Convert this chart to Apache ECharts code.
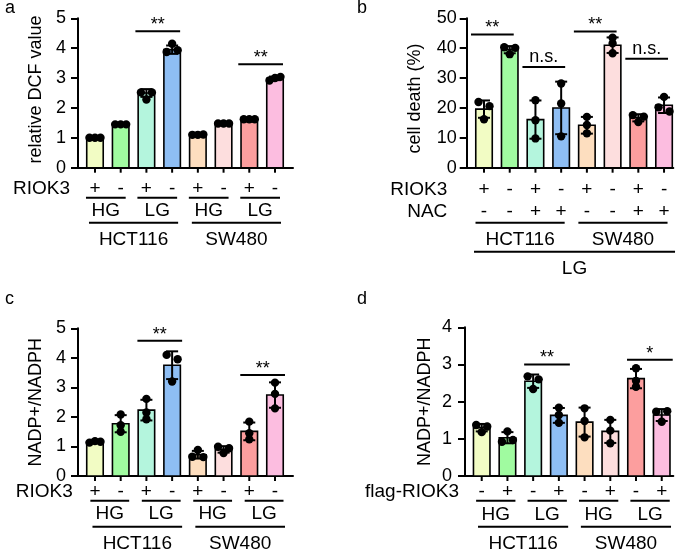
<!DOCTYPE html>
<html>
<head>
<meta charset="utf-8">
<script src="https://cdn.jsdelivr.net/npm/echarts@6/dist/echarts.min.js"></script>
<style>
html,body{margin:0;padding:0;background:#fff;}
#main{width:685px;height:553px;}
</style>
</head>
<body>
<div id="main"></div>
<script>
// ---------------- data ----------------
const barColors = ['#F2FCC4','#A0FBA0','#B4F5DD','#8EBEF4','#FDDEBF','#FDDEDE','#FC9E9E','#FCBDE0'];

// panel a: relative DCF value
const aMean = [1.00, 1.45, 2.50, 3.95, 1.11, 1.48, 1.62, 2.99];
const aSD   = [0.01, 0.01, 0.13, 0.14, 0.01, 0.01, 0.01, 0.06];
const aDots = [[1.00,1.00,1.00],[1.45,1.45,1.45],[2.52,2.28,2.52],[3.87,4.15,3.93],
               [1.10,1.10,1.11],[1.48,1.48,1.48],[1.62,1.62,1.62],[2.92,3.00,3.04]];
const aSig  = [{from:2,to:3,y:4.57,label:'**'},{from:6,to:7,y:3.46,label:'**'}];
const aRowNames = ['RIOK3'];
const aRowSigns = [['+','-','+','-','+','-','+','-']];
const aConds = ['HG','LG','HG','LG'];
const aCells = ['HCT116','SW480'];

// panel b: cell death (%)
const bMean = [19.6, 39.5, 16.1, 20.0, 14.2, 41.0, 16.7, 20.9];
const bSD   = [2.9, 1.2, 6.4, 8.8, 2.8, 2.6, 1.2, 2.6];
const bDots = [[22.0,16.2,20.6],[40.3,38.0,40.1],[22.6,15.9,9.8],[28.2,21.5,10.5],
               [17.0,14.3,11.5],[43.5,41.6,38.3],[17.6,15.3,17.1],[23.7,20.2,18.8]];
const bSig  = [{from:0,to:1,y:44.6,label:'**'},{from:2,to:3,y:33.7,label:'n.s.'},
               {from:4,to:5,y:45.6,label:'**'},{from:6,to:7,y:36.5,label:'n.s.'}];
const bRowNames = ['RIOK3','NAC'];
const bRowSigns = [['+','-','+','-','+','-','+','-'],['-','-','+','+','-','-','+','+']];
const bCells = ['HCT116','SW480'];
const bConds = ['LG'];

// panel c: NADP+/NADPH
const cMean = [1.16, 1.77, 2.23, 3.75, 0.72, 0.90, 1.51, 2.74];
const cSD   = [0.03, 0.29, 0.35, 0.47, 0.13, 0.11, 0.30, 0.43];
const cDots = [[1.13,1.18,1.16],[2.08,1.72,1.50],[2.61,2.15,1.92],[4.10,3.20,3.95],
               [0.88,0.65,0.64],[0.99,0.78,0.94],[1.84,1.45,1.24],[3.16,2.78,2.29]];
const cSig  = [{from:2,to:3,y:4.58,label:'**'},{from:6,to:7,y:3.42,label:'**'}];
const cRowNames = ['RIOK3'];
const cRowSigns = [['+','-','+','-','+','-','+','-']];
const cConds = ['HG','LG','HG','LG'];
const cCells = ['HCT116','SW480'];

// panel d: NADP+/NADPH
const dMean = [1.30, 1.03, 2.55, 1.63, 1.45, 1.20, 2.62, 1.64];
const dSD   = [0.10, 0.15, 0.18, 0.20, 0.39, 0.31, 0.26, 0.16];
const dDots = [[1.37,1.18,1.33],[0.92,1.20,0.97],[2.68,2.34,2.60],[1.84,1.64,1.43],
               [1.82,1.48,1.04],[1.51,1.22,0.88],[2.90,2.56,2.40],[1.73,1.46,1.74]];
const dSig  = [{from:2,to:3,y:3.00,label:'**'},{from:6,to:7,y:3.13,label:'*'}];
const dRowNames = ['flag-RIOK3'];
const dRowSigns = [['-','+','-','+','-','+','-','+']];
const dConds = ['HG','LG','HG','LG'];
const dCells = ['HCT116','SW480'];

// ---------------- layout / style ----------------
const FONT = "'Liberation Sans', Arial, Helvetica, sans-serif";
const FS = 18, FS_ANN = 19;
const BAR_W = 16.5, CAP = 6, DOT_R = 4.2, CLUSTER_PX = 5, SPREAD = 5.5;

const panels = [
  { letter:'a', letterPos:[5,8.7], mean:aMean, sd:aSD, dots:aDots, sig:aSig, sigPad:[11,8],
    grid:{left:78, top:18.3, width:215, height:149.4}, xMin:-0.66, xMax:7.7, yMax:5, yInt:1,
    name:'relative DCF value', nameGap:33, namePad:[0,0,0,7], labelMargin:12,
    rows:aRowNames.map((n,k)=>({name:n, signs:aRowSigns[k]})), rowDy:[21.3], rowNameGap:8,
    levels:[{labels:aConds, lineDy:30, textDy:43, pad:[9,5]},
            {labels:aCells, lineDy:55, textDy:72.3, pad:[6,6]}] },
  { letter:'b', letterPos:[357,8.7], mean:bMean, sd:bSD, dots:bDots, sig:bSig, sigPad:[13,4],
    grid:{left:466.7, top:18.3, width:206.6, height:149.4}, xMin:-0.673, xMax:7.36, yMax:50, yInt:10,
    name:'cell death (%)', nameGap:43, namePad:[0,11,0,0], labelMargin:10,
    rows:bRowNames.map((n,k)=>({name:n, signs:bRowSigns[k]})), rowDy:[22,44], rowNameGap:19.4,
    levels:[{labels:bCells, lineDy:55, textDy:72.3, pad:[8.5,3.5]},
            {labels:bConds, lineDy:84, textDy:101.1, pad:[10,11]}] },
  { letter:'c', letterPos:[5,300.4], mean:cMean, sd:cSD, dots:cDots, sig:cSig, sigPad:[9,10],
    grid:{left:78, top:328.3, width:215, height:147.7}, xMin:-0.66, xMax:7.7, yMax:5, yInt:1,
    name:'NADP+/NADPH', nameGap:33, namePad:[0,0,0,0], labelMargin:12,
    rows:cRowNames.map((n,k)=>({name:n, signs:cRowSigns[k]})), rowDy:[16.2], rowNameGap:5.3,
    levels:[{labels:cConds, lineDy:24.7, textDy:38.2, pad:[4.6,8.5]},
            {labels:cCells, lineDy:50.7, textDy:67.3, pad:[2.5,10]}] },
  { letter:'d', letterPos:[357,300.4], mean:dMean, sd:dSD, dots:dDots, sig:dSig, sigPad:[9,11],
    grid:{left:465, top:327.3, width:208.3, height:148.7}, xMin:-0.65, xMax:7.45, yMax:4, yInt:1,
    name:'NADP+/NADPH', nameGap:31, namePad:[0,0,0,0], labelMargin:13,
    rows:dRowNames.map((n,k)=>({name:n, signs:dRowSigns[k]})), rowDy:[15.7], rowNameGap:6,
    levels:[{labels:dConds, lineDy:24.7, textDy:38.5, pad:[5.6,8]},
            {labels:dCells, lineDy:50.7, textDy:67.3, pad:[3.7,9.3]}] }
];

// ---------------- helpers ----------------
function dotOffsets(py) {
  const n = py.length, par = py.map((_, k) => k);
  const f = k => par[k] === k ? k : (par[k] = f(par[k]));
  for (let a = 0; a < n; a++) for (let b = a + 1; b < n; b++)
    if (Math.abs(py[a] - py[b]) < CLUSTER_PX) par[f(b)] = f(a);
  const groups = {};
  py.forEach((_, k) => { const r = f(k); (groups[r] = groups[r] || []).push(k); });
  const off = new Array(n).fill(0);
  Object.values(groups).forEach(g => {
    if (g.length === 2) { off[g[0]] = -SPREAD; off[g[1]] = SPREAD; }
    else if (g.length >= 3) g.forEach((k, j) => { off[k] = (j - (g.length - 1) / 2) * SPREAD; });
  });
  return off;
}
function txt(x, y, s, align, size) {
  const fs = size || FS_ANN;
  return {type:'text', x:x, y:y, style:{text:s, fill:'#000', font: fs + 'px ' + FONT,
          fontSize:fs, fontFamily:FONT, align:align||'center', verticalAlign:'middle'}};
}
function ln(x1, y1, x2, y2) {
  return {type:'line', shape:{x1:x1, y1:y1, x2:x2, y2:y2}, style:{stroke:'#000', lineWidth:2}};
}

// ---------------- build option ----------------
const option = {
  animation:false,
  backgroundColor:'#fff',
  grid:[], xAxis:[], yAxis:[], series:[],
  graphic: panels.map(p => ({type:'text', left:p.letterPos[0], top:p.letterPos[1]-10,
    style:{text:p.letter, fill:'#000', font:'18px ' + FONT, fontSize:18, fontFamily:FONT}}))
};

panels.forEach((p, gi) => {
  option.grid.push(Object.assign({show:false, containLabel:false, outerBoundsMode:'none'}, p.grid));
  option.xAxis.push({type:'value', gridIndex:gi, min:p.xMin, max:p.xMax,
    axisLine:{show:true, onZero:false, lineStyle:{color:'#000', width:2}},
    axisTick:{show:false}, axisLabel:{show:false}, splitLine:{show:false}});
  option.yAxis.push({type:'value', gridIndex:gi, min:0, max:p.yMax, interval:p.yInt,
    name:p.name, nameLocation:'middle', nameGap:p.nameGap,
    nameTextStyle:{color:'#000', fontSize:FS, fontFamily:FONT, padding:p.namePad},
    axisLine:{show:true, onZero:false, lineStyle:{color:'#000', width:2}},
    axisTick:{show:true, length:7, lineStyle:{color:'#000', width:2}},
    axisLabel:{color:'#000', fontSize:FS, fontFamily:FONT, margin:p.labelMargin},
    splitLine:{show:false}});

  // bars + error bars + dots + x ticks
  option.series.push({
    type:'custom', xAxisIndex:gi, yAxisIndex:gi, clip:false, z:3,
    data: p.mean.map((m, i) => [i, m, p.sd[i]]),
    renderItem: function(params, api) {
      const i = api.value(0), m = api.value(1), s = api.value(2);
      const b = api.coord([i, 0]), t = api.coord([i, m]);
      const cx = b[0];
      const up = api.coord([i, m + s])[1], dn = api.coord([i, m - s])[1];
      const ch = [];
      ch.push({type:'rect', shape:{x:cx - BAR_W/2, y:t[1], width:BAR_W, height:b[1] - t[1]},
               style:{fill:barColors[i], stroke:'#000', lineWidth:1.6}});
      ch.push(ln(cx, b[1], cx, b[1] + 5));
      ch.push(ln(cx, up, cx, dn));
      ch.push(ln(cx - CAP, up, cx + CAP, up));
      ch.push(ln(cx - CAP, dn, cx + CAP, dn));
      const vals = p.dots[params.dataIndex];
      const py = vals.map(v => api.coord([i, v])[1]);
      const off = dotOffsets(py);
      py.forEach((y, k) => ch.push({type:'circle', shape:{cx:cx + off[k], cy:y, r:DOT_R}, style:{fill:'#000'}}));
      return {type:'group', children:ch};
    }
  });

  // significance brackets
  option.series.push({
    type:'custom', xAxisIndex:gi, yAxisIndex:gi, clip:false, z:4,
    data: p.sig.map(s => [s.from, s.to, s.y]),
    renderItem: function(params, api) {
      const s = p.sig[params.dataIndex];
      const a = api.coord([api.value(0), api.value(2)]), b = api.coord([api.value(1), api.value(2)]);
      const x1 = a[0] - p.sigPad[0], x2 = b[0] + p.sigPad[1];
      const dy = s.label.indexOf('*') >= 0 ? 6 : 10;
      return {type:'group', children:[ln(x1, a[1], x2, a[1]), txt((x1 + x2) / 2, a[1] - dy, s.label, 'center', FS)]};
    }
  });

  // category annotation below the axis
  option.series.push({
    type:'custom', xAxisIndex:gi, yAxisIndex:gi, clip:false, z:4,
    data:[[0, 0]],
    renderItem: function(params, api) {
      const ch = [];
      const n = p.mean.length;
      const y0 = api.coord([0, 0])[1];
      const left = api.coord([p.xMin, 0])[0];
      p.rows.forEach((r, k) => {
        const y = y0 + p.rowDy[k];
        ch.push(txt(left - p.rowNameGap, y, r.name, 'right'));
        r.signs.forEach((sg, i) => ch.push(txt(api.coord([i, 0])[0], y, sg)));
      });
      p.levels.forEach(lv => {
        const per = n / lv.labels.length;
        lv.labels.forEach((lab, g) => {
          const xa = api.coord([g * per, 0])[0] - lv.pad[0];
          const xb = api.coord([(g + 1) * per - 1, 0])[0] + lv.pad[1];
          ch.push(ln(xa, y0 + lv.lineDy, xb, y0 + lv.lineDy));
          ch.push(txt((xa + xb) / 2, y0 + lv.textDy, lab));
        });
      });
      return {type:'group', children:ch};
    }
  });
});

const chart = echarts.init(document.getElementById('main'));
chart.setOption(option);
</script>
</body>
</html>
